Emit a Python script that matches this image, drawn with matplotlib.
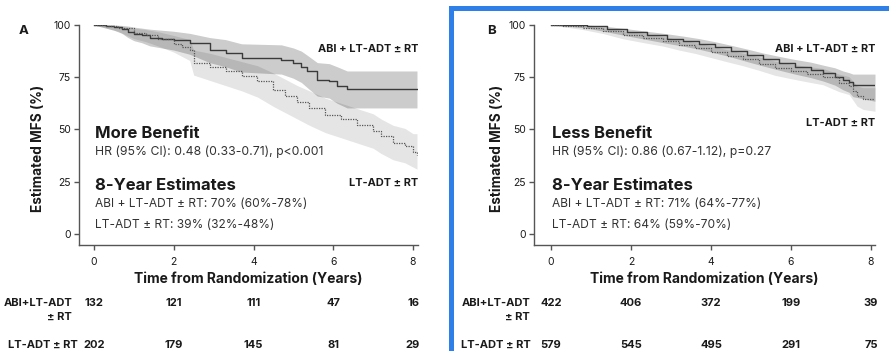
import matplotlib.pyplot as plt
import matplotlib.transforms as mtransforms
from matplotlib.patches import Rectangle

plt.rcParams['font.family'] = ['Inter', 'DejaVu Sans']

# Panel A (more benefit) - Kaplan-Meier step points
a_abi_t = [0, 0.3, 0.5, 0.7, 0.85, 1.0, 1.2, 1.4, 1.7, 2.0, 2.4, 2.9, 3.3, 3.7, 4.7, 5.0, 5.2, 5.35, 5.6, 5.9, 6.1, 6.35, 8.1]
a_abi_s = [100, 99.5, 99, 98, 96.8, 95.5, 95, 94, 93.5, 92.8, 91.3, 88, 86.5, 84, 83.3, 82, 80, 77.8, 73.8, 73, 71, 69.5, 69.5]
a_abi_hi = [100, 100, 100, 99.8, 99.5, 99, 98.5, 98, 97.5, 97, 96, 94, 93, 91, 90.5, 89, 87.5, 85.5, 82, 81.5, 80, 78, 78]
a_abi_lo = [100, 98.5, 97.5, 96, 94, 92.5, 91.5, 90, 89, 88, 86, 82, 80, 77.5, 76.5, 74.5, 72.5, 70, 66, 65, 62.5, 60.3, 60.3]

a_lt_t = [0, 0.3, 0.6, 1.0, 1.3, 1.6, 2.0, 2.2, 2.4, 2.5, 2.9, 3.3, 3.7, 4.1, 4.5, 4.8, 5.1, 5.4, 5.8, 6.2, 6.6, 7.0, 7.2, 7.5, 7.8, 8.0, 8.1]
a_lt_s = [100, 99.5, 98.5, 96, 95, 93.5, 91, 89.5, 88, 82, 80, 77.8, 75.4, 73, 69, 66, 63, 60.3, 57, 54.8, 52, 49.5, 46.8, 43.7, 42, 39, 38]
a_lt_hi = [100, 100, 99.5, 98.5, 97.8, 96.8, 95, 94, 93, 88, 86.5, 84.5, 82.5, 80.5, 77, 74, 71, 68.5, 65, 62.5, 60, 57.5, 55, 52, 50.5, 48, 48]
a_lt_lo = [100, 98.5, 97, 93.5, 92, 90, 87, 85, 83, 76, 73.5, 71, 68.5, 65.5, 61, 58, 55, 52, 48.5, 46, 43.5, 41, 38.5, 35.5, 34, 32, 31]

# Panel B (less benefit)
b_abi_t = [0, 0.4, 0.9, 1.4, 1.9, 2.4, 2.9, 3.3, 3.7, 4.1, 4.5, 4.9, 5.3, 5.7, 6.1, 6.5, 6.8, 7.1, 7.3, 7.45, 7.55, 8.1]
b_abi_s = [100, 99.8, 99.3, 98, 96.5, 95, 93.5, 92.3, 91, 89.3, 87.5, 85.5, 83.5, 81.7, 80, 78.5, 77, 75.3, 73.5, 72.5, 71.3, 71.3]
b_abi_hi = [100, 100, 100, 99.3, 98.2, 97, 95.8, 94.7, 93.5, 92, 90.3, 88.5, 86.6, 85, 83.5, 82.2, 80.8, 79.5, 78, 77.2, 76.5, 76.5]
b_abi_lo = [100, 99.5, 98.5, 96.7, 94.8, 93, 91.2, 89.9, 88.4, 86.6, 84.7, 82.5, 80.4, 78.4, 76.5, 74.8, 73.2, 71.2, 69, 67.8, 65.7, 63.5]

b_lt_t = [0, 0.3, 0.8, 1.3, 1.8, 2.3, 2.8, 3.2, 3.6, 4.0, 4.4, 4.8, 5.2, 5.6, 6.0, 6.4, 6.8, 7.2, 7.45, 7.55, 7.65, 7.8, 8.1]
b_lt_s = [100, 99.6, 98.8, 97.3, 95.3, 93.8, 92.2, 90.5, 89, 87.2, 85.3, 83.5, 81.5, 79.3, 77.8, 76.5, 75.3, 72.3, 71, 68.5, 66, 64.8, 64.4]
b_lt_hi = [100, 100, 99.8, 98.7, 97.2, 96, 94.5, 93, 91.6, 90, 88.2, 86.5, 84.7, 82.7, 81.3, 80.2, 79.2, 76.5, 75.3, 73, 70.8, 70, 70]
b_lt_lo = [100, 99.2, 97.8, 95.9, 93.4, 91.6, 89.9, 88, 86.4, 84.4, 82.4, 80.5, 78.3, 75.9, 74.3, 72.8, 71.4, 68.1, 66.7, 64, 61.2, 59.6, 58.7]

risk_years = [0, 2, 4, 6, 8]
a_risk_abi = [132, 121, 111, 47, 16]
a_risk_lt = [202, 179, 145, 81, 29]
b_risk_abi = [422, 406, 372, 199, 39]
b_risk_lt = [579, 545, 495, 291, 75]

W, H = 889, 351
fig = plt.figure(figsize=(W / 100, H / 100), dpi=100)

def fx(px):
    return px / W

def fy(py):
    return 1 - py / H

txt = '#1a1a1a'


def panel(left, right, x0, x8, letter, letter_x, ylab_x,
          abi, lt, title, hr, est_abi, est_lt, lt_label_y,
          risk_abi, risk_lt, row1_right, row2_right):
    ax = fig.add_axes([fx(left), fy(245), fx(right) - fx(left), fy(25) - fy(245)])
    ppy = (x8 - x0) / 8
    ax.set_xlim((left - x0) / ppy, (right - x0) / ppy)
    ax.set_ylim(-5.3, 100)

    # confidence bands, then the KM steps on top
    t, s, hi, lo = abi
    ax.fill_between(t, lo, hi, color='black', alpha=0.2, lw=0)
    t2, s2, hi2, lo2 = lt
    ax.fill_between(t2, lo2, hi2, color='black', alpha=0.10, lw=0)
    ax.step(t, s, where='post', color='#3a3a3a', lw=1.0)
    ax.step(t2, s2, where='post', color='#555555', lw=0.9, linestyle=(0, (1, 1)))

    for sp in ['top', 'right']:
        ax.spines[sp].set_visible(False)
    for sp in ['left', 'bottom']:
        ax.spines[sp].set_color('#555555')
        ax.spines[sp].set_linewidth(1.0)
    ax.set_xticks([0, 2, 4, 6, 8])
    ax.set_yticks([0, 25, 50, 75, 100])
    ax.tick_params(axis='both', colors='#555555', labelcolor=txt, labelsize=7.5,
                   length=3.5, width=1.0, pad=2.5)
    ax.tick_params(axis='x', pad=5)
    ax.set_xlabel('Time from Randomization (Years)', fontsize=10,
                  fontweight='bold', color=txt, labelpad=4)

    fig.text(fx(ylab_x), fy(148), 'Estimated MFS (%)', rotation=90, fontsize=9.8,
             fontweight='bold', color=txt, ha='center', va='center')
    fig.text(fx(letter_x), fy(31), letter, fontsize=9.5, fontweight='bold',
             color=txt, ha='center', va='center')

    tx = fx(x0 + 1)
    fig.text(tx, fy(133), title, fontsize=12, fontweight='bold', color=txt, va='center')
    fig.text(tx, fy(152), hr, fontsize=8.8, color='#333333', va='center')
    fig.text(tx, fy(186), '8-Year Estimates', fontsize=12, fontweight='bold',
             color=txt, va='center')
    fig.text(tx, fy(204), est_abi, fontsize=8.6, color='#333333', va='center')
    fig.text(tx, fy(225), est_lt, fontsize=8.6, color='#333333', va='center')

    fig.text(fx(right), fy(49), 'ABI + LT-ADT ± RT', fontsize=7.9, fontweight='bold',
             color=txt, ha='right', va='center')
    fig.text(fx(right), fy(lt_label_y), 'LT-ADT ± RT', fontsize=7.9, fontweight='bold',
             color=txt, ha='right', va='center')

    # numbers at risk under the axis
    tr = mtransforms.blended_transform_factory(ax.transData, fig.transFigure)
    for yr, n1, n2 in zip(risk_years, risk_abi, risk_lt):
        fig.text(yr, fy(303), str(n1), transform=tr, fontsize=8, fontweight='bold',
                 color=txt, ha='center', va='center')
        fig.text(yr, fy(345), str(n2), transform=tr, fontsize=8, fontweight='bold',
                 color=txt, ha='center', va='center')
    fig.text(fx(row1_right), fy(303), 'ABI+LT-ADT', fontsize=8, fontweight='bold',
             color=txt, ha='right', va='center')
    fig.text(fx(row1_right), fy(317), '± RT', fontsize=8, fontweight='bold',
             color=txt, ha='right', va='center')
    fig.text(fx(row2_right), fy(345), 'LT-ADT ± RT', fontsize=8, fontweight='bold',
             color=txt, ha='right', va='center')
    return ax


panel(79, 418, 94, 413, 'A', 24, 38,
      (a_abi_t, a_abi_s, a_abi_hi, a_abi_lo), (a_lt_t, a_lt_s, a_lt_hi, a_lt_lo),
      'More Benefit', 'HR (95% CI): 0.48 (0.33-0.71), p<0.001',
      'ABI + LT-ADT ± RT: 70% (60%-78%)', 'LT-ADT ± RT: 39% (32%-48%)', 183,
      a_risk_abi, a_risk_lt, 72, 78)

panel(534, 875, 551, 871, 'B', 491, 497,
      (b_abi_t, b_abi_s, b_abi_hi, b_abi_lo), (b_lt_t, b_lt_s, b_lt_hi, b_lt_lo),
      'Less Benefit', 'HR (95% CI): 0.86 (0.67-1.12), p=0.27',
      'ABI + LT-ADT ± RT: 71% (64%-77%)', 'LT-ADT ± RT: 64% (59%-70%)', 123,
      b_risk_abi, b_risk_lt, 530, 531)

# blue frame round panel B (runs off the right and bottom edges)
fig.patches.append(Rectangle((fx(450.5), fy(380)), fx(480), fy(8.5) - fy(380),
                             transform=fig.transFigure, fill=False,
                             edgecolor='#2f7fe8', lw=3.6))

fig.savefig('out.png', dpi=100)
